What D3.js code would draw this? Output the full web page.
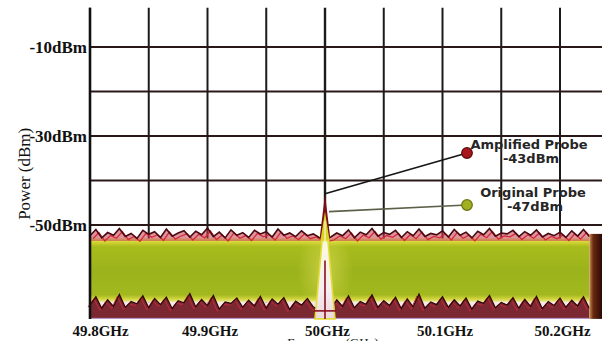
<!DOCTYPE html>
<html>
<head>
<meta charset="utf-8">
<script src="https://cdn.jsdelivr.net/npm/d3@7/dist/d3.min.js"></script>
<style>
  html, body { margin: 0; padding: 0; background: #fff; }
  svg { display: block; }
</style>
</head>
<body>
<script>
// ---- data ----
const freqTicks = [49.8, 49.9, 50.0, 50.1, 50.2];
const freqTickLabels = ["49.8GHz", "49.9GHz", "50GHz", "50.1GHz", "50.2GHz"];
const powerTicks = [-10, -30, -50];
const powerTickLabels = ["-10dBm", "-30dBm", "-50dBm"];
const gridPower = [-10, -20, -30, -40, -50];
const gridFreq = [49.8, 49.85, 49.9, 49.95, 50.0, 50.05, 50.1, 50.15, 50.2];

// noise trace sampled every 5 MHz from 49.800 GHz
const noiseStart = 49.8, noiseStep = 0.005;
const upperNoise = [
  -52.4, -51.0, -52.9, -51.7, -52.3, -50.8, -52.6, -51.9, -53.0, -51.2,
  -52.1, -51.5, -52.8, -50.9, -52.5, -51.8, -51.3, -52.7, -51.4, -52.2,
  -50.7, -52.6, -51.6, -52.9, -51.1, -52.3, -51.7, -52.8, -51.2, -52.0,
  -51.5, -52.7, -50.9, -52.3, -51.8, -52.6, -51.3, -52.4, -52.0, -52.8,
  -53.0, -52.7, -51.8, -52.4, -51.1, -52.9, -51.6, -52.2, -50.8, -52.5,
  -51.7, -52.1, -51.2, -52.8, -51.5, -52.4, -50.9, -52.6, -51.9, -52.2,
  -51.3, -52.7, -51.0, -52.3, -51.6, -52.9, -51.4, -52.2, -50.8, -52.5,
  -51.8, -52.0, -51.2, -52.6, -51.5, -52.3, -51.1, -52.7, -51.9, -52.4,
  -51.6, -52.8, -51.3, -52.5, -51.0, -52.6
];
const lowerNoise = [
  -68.0, -66.1, -68.7, -66.8, -68.3, -65.6, -68.5, -67.2, -67.7, -65.9,
  -68.6, -66.5, -67.9, -66.2, -68.8, -67.0, -67.5, -65.4, -68.4, -66.7,
  -68.1, -65.8, -68.9, -67.3, -67.6, -66.4, -68.5, -66.9, -68.2, -66.0,
  -68.7, -66.6, -67.8, -66.3, -69.0, -67.1, -68.0, -66.5, -68.4, -69.1,
  -69.5, -68.9, -66.8, -68.3, -65.9, -68.6, -67.2, -67.8, -65.7, -68.5,
  -67.0, -68.1, -66.2, -68.8, -66.6, -68.4, -65.5, -68.7, -67.3, -67.9,
  -66.1, -68.5, -66.8, -68.2, -66.4, -68.9, -67.1, -67.6, -65.8, -68.6,
  -67.4, -68.0, -66.3, -68.7, -66.7, -68.3, -66.0, -68.8, -67.2, -68.1,
  -66.4, -68.5, -66.9, -68.2, -66.1, -68.7
];
const floorTop = -53.0, floorBottom = -67.4, traceBase = -71.1;

const peakFreq = 50.0;
const amplifiedPeak = -43;
const originalPeak = -47;
const probeNames = ["Amplified Probe", "Original Probe"];

// ---- layout ----
const W = 602, H = 341;
const powerTop = -1.2;

const x = d3.scaleLinear().domain([49.8, 50.2]).range([90, 560]);
const y = d3.scaleLinear().domain([-10, -50]).range([47, 225]);

const svg = d3.select("body").append("svg")
  .attr("width", W).attr("height", H)
  .attr("viewBox", `0 0 ${W} ${H}`);

const defs = svg.append("defs");
const bandGrad = defs.append("linearGradient")
  .attr("id", "band").attr("gradientUnits", "userSpaceOnUse")
  .attr("x1", 0).attr("x2", 0).attr("y1", y(floorTop)).attr("y2", y(floorBottom));
[[0, "#f0eaa0"], [0.05, "#d8d838"], [0.13, "#a8bc1c"], [0.5, "#9bb31c"],
 [0.88, "#a2b81e"], [0.95, "#d4d640"], [1, "#f2ecc0"]]
  .forEach(([o, c]) => bandGrad.append("stop").attr("offset", o).attr("stop-color", c));

const glow = defs.append("radialGradient").attr("id", "glow");
glow.append("stop").attr("offset", 0).attr("stop-color", "#e4e05a").attr("stop-opacity", 0.6);
glow.append("stop").attr("offset", 1).attr("stop-color", "#e4e05a").attr("stop-opacity", 0);

const edgeGrad = defs.append("linearGradient").attr("id", "edge")
  .attr("x1", 0).attr("x2", 1).attr("y1", 0).attr("y2", 0);
[[0, "#c89050"], [0.3, "#6a2a10"], [1, "#2a0806"]]
  .forEach(([o, c]) => edgeGrad.append("stop").attr("offset", o).attr("stop-color", c));

const chanGrad = defs.append("linearGradient").attr("id", "chan")
  .attr("x1", 0).attr("x2", 0).attr("y1", 0).attr("y2", 1);
[[0, "#fbf8e0"], [0.6, "#f6f0f0"], [1, "#ecd8dc"]]
  .forEach(([o, c]) => chanGrad.append("stop").attr("offset", o).attr("stop-color", c));

// ---- grid ----
const grid = svg.append("g");
grid.selectAll("line.v").data(gridFreq).join("line")
  .attr("x1", d => x(d)).attr("x2", d => x(d))
  .attr("y1", y(powerTop)).attr("y2", y(traceBase))
  .attr("stroke", "#1e1a1a").attr("stroke-width", d => d === peakFreq ? 2.4 : 2);
grid.selectAll("line.h").data(gridPower).join("line")
  .attr("x1", x(49.8)).attr("x2", W)
  .attr("y1", d => y(d)).attr("y2", d => y(d))
  .attr("stroke", "#2a1818").attr("stroke-width", 2);

// ---- spectrum ----
const pts = upperNoise.map((u, i) => ({ f: noiseStart + i * noiseStep, u, l: lowerNoise[i] }));
const fEnd = pts[pts.length - 1].f;

const spec = svg.append("g");
// pale floor behind the lower noise
spec.append("rect")
  .attr("x", x(noiseStart)).attr("width", x(fEnd) - x(noiseStart))
  .attr("y", y(floorBottom)).attr("height", y(traceBase) - y(floorBottom))
  .attr("fill", "#f4e6ee");

// main noise body
spec.append("rect")
  .attr("x", x(noiseStart)).attr("width", x(fEnd) - x(noiseStart))
  .attr("y", y(floorTop)).attr("height", y(floorBottom) - y(floorTop))
  .attr("fill", "url(#band)");

spec.append("ellipse")
  .attr("cx", x(peakFreq)).attr("cy", y(-60))
  .attr("rx", 28).attr("ry", 42).attr("fill", "url(#glow)");

// upper noise spikes
const upperLine = d3.line().x(d => x(d.f)).y(d => y(d.u));
spec.append("path").datum(pts)
  .attr("d", d3.area().x(d => x(d.f)).y0(y(floorTop - 0.6)).y1(d => y(d.u)))
  .attr("fill", "#c23848").attr("fill-opacity", 0.55);
spec.append("path").datum(pts)
  .attr("d", upperLine)
  .attr("transform", "translate(3,3)")
  .attr("fill", "none").attr("stroke", "#d42a3a").attr("stroke-width", 1.3);
spec.append("path").datum(pts)
  .attr("d", upperLine)
  .attr("fill", "none").attr("stroke", "#4a0810").attr("stroke-width", 1.6);

// lower noise spikes
const lowerLine = d3.line().x(d => x(d.f)).y(d => y(d.l));
spec.append("path").datum(pts)
  .attr("d", d3.area().x(d => x(d.f)).y0(y(traceBase)).y1(d => y(d.l)))
  .attr("fill", "#6a0e18").attr("fill-opacity", 0.88);
spec.append("path").datum(pts)
  .attr("d", lowerLine)
  .attr("transform", "translate(-2,2)")
  .attr("fill", "none").attr("stroke", "#c42a3c").attr("stroke-width", 1);
spec.append("path").datum(pts)
  .attr("d", lowerLine)
  .attr("fill", "none").attr("stroke", "#2e0408").attr("stroke-width", 1.2);
spec.append("line")
  .attr("x1", x(noiseStart)).attr("x2", x(fEnd))
  .attr("y1", y(traceBase) - 0.5).attr("y2", y(traceBase) - 0.5)
  .attr("stroke", "#b8a6d4").attr("stroke-width", 1);

// right edge of the trace
spec.append("rect")
  .attr("x", x(fEnd)).attr("width", W - x(fEnd))
  .attr("y", y(floorTop + 1)).attr("height", y(traceBase) - y(floorTop + 1))
  .attr("fill", "url(#edge)");

// ---- carrier peak ----
const pk = svg.append("g");
pk.append("path")
  .attr("d", `M${x(peakFreq - 0.0045)},${y(floorTop)} L${x(peakFreq)},${y(amplifiedPeak)} L${x(peakFreq + 0.0045)},${y(floorTop)}Z`)
  .attr("fill", "#7a0e14");
pk.append("path")
  .attr("d", `M${x(peakFreq - 0.0042)},${y(floorTop - 1)} L${x(peakFreq)},${y(originalPeak)} L${x(peakFreq + 0.0042)},${y(floorTop - 1)}Z`)
  .attr("fill", "#d8d424");
pk.append("path")
  .attr("d", `M${x(peakFreq - 0.0025)},${y(floorTop - 0.5)} L${x(peakFreq - 0.0085)},${y(traceBase)} L${x(peakFreq + 0.0085)},${y(traceBase)} L${x(peakFreq + 0.0025)},${y(floorTop - 0.5)}Z`)
  .attr("fill", "url(#chan)").attr("stroke", "#e2dc3a").attr("stroke-width", 1.6);
pk.append("line")
  .attr("x1", x(peakFreq)).attr("x2", x(peakFreq))
  .attr("y1", y(originalPeak - 2)).attr("y2", y(floorTop - 2))
  .attr("stroke", "#fbf6d8").attr("stroke-width", 1.2);
pk.append("line")
  .attr("x1", x(peakFreq)).attr("x2", x(peakFreq))
  .attr("y1", y(-58)).attr("y2", y(traceBase))
  .attr("stroke", "#8a1020").attr("stroke-width", 1.6);
pk.append("line")
  .attr("x1", x(peakFreq - 0.0095)).attr("x2", x(peakFreq + 0.0095))
  .attr("y1", y(-69.3)).attr("y2", y(-69.3))
  .attr("stroke", "#8a1020").attr("stroke-width", 1.6);

// ---- left axis ----
svg.append("line")
  .attr("x1", x(49.8)).attr("x2", x(49.8))
  .attr("y1", y(powerTop)).attr("y2", y(traceBase))
  .attr("stroke", "#111").attr("stroke-width", 2.6);

const yAxis = svg.append("g")
  .attr("transform", `translate(${x(49.8) - 2},0)`)
  .call(d3.axisLeft(y).tickValues(powerTicks).tickSize(0).tickPadding(1)
    .tickFormat((d, i) => powerTickLabels[i]));
yAxis.select(".domain").remove();
yAxis.selectAll("text")
  .attr("font-family", "'Liberation Serif', 'Times New Roman', serif")
  .attr("font-weight", "bold").attr("font-size", 17).attr("fill", "#111");

const xAxis = svg.append("g")
  .attr("transform", `translate(0,${y(traceBase) + 2})`)
  .call(d3.axisBottom(x).tickValues(freqTicks).tickSize(0).tickPadding(4)
    .tickFormat((d, i) => freqTickLabels[i]));
xAxis.select(".domain").remove();
xAxis.selectAll("text")
  .attr("font-family", "'Liberation Serif', 'Times New Roman', serif")
  .attr("font-weight", "bold").attr("font-size", 15).attr("fill", "#111")
  .attr("dx", (d, i) => i === 0 ? 10 : 2);

svg.append("text")
  .attr("transform", `translate(30,${y(-38.5)}) rotate(-90)`)
  .attr("text-anchor", "middle")
  .attr("font-family", "'Liberation Serif', 'Times New Roman', serif")
  .attr("font-size", 17).attr("fill", "#111")
  .text("Power (dBm)");

svg.append("text")
  .attr("x", x(peakFreq) + 8).attr("y", 347)
  .attr("text-anchor", "middle")
  .attr("font-family", "'Liberation Serif', 'Times New Roman', serif")
  .attr("font-size", 13).attr("fill", "#222")
  .text("Frequency (GHz)");

// ---- probe annotations ----
const notes = [
  { name: probeNames[0], value: amplifiedPeak, dot: [467, 153], line: "#151515", fill: "#a8161c", ring: "#5a0a0c", tx: 529, ty: 149 },
  { name: probeNames[1], value: originalPeak, dot: [467, 205], line: "#5c6048", fill: "#a2b020", ring: "#6a7210", tx: 533, ty: 197 }
];
const ann = svg.append("g");
notes.forEach(n => {
  ann.append("line")
    .attr("x1", x(peakFreq) + (n.value === originalPeak ? 4 : 0)).attr("y1", y(n.value))
    .attr("x2", n.dot[0]).attr("y2", n.dot[1])
    .attr("stroke", n.line).attr("stroke-width", 1.6);
  ann.append("circle")
    .attr("cx", n.dot[0]).attr("cy", n.dot[1]).attr("r", 5.3)
    .attr("fill", n.fill).attr("stroke", n.ring).attr("stroke-width", 1.2);
  const t = ann.append("text")
    .attr("text-anchor", "middle")
    .attr("font-family", "'DejaVu Sans', Verdana, sans-serif")
    .attr("font-weight", "bold").attr("font-size", 13).attr("fill", "#262626");
  t.append("tspan").attr("x", n.tx).attr("y", n.ty).text(n.name);
  t.append("tspan").attr("x", n.tx + 2).attr("y", n.ty + 14).text(`${n.value}dBm`);
});
</script>
</body>
</html>
